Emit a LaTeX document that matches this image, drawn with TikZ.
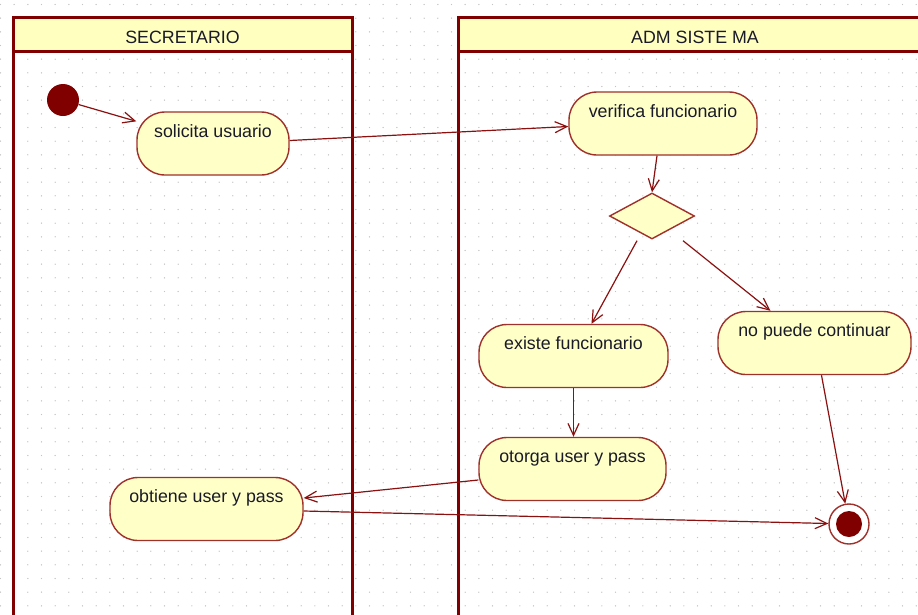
\documentclass[tikz,border=0pt]{standalone}
\usepackage{fontspec}
\setmainfont{Liberation Sans}
\usetikzlibrary{shapes.geometric,arrows.meta}
\definecolor{lanec}{HTML}{800000}
\definecolor{nodeb}{HTML}{A0302A}
\definecolor{nodef}{HTML}{FFFFC8}
\definecolor{headf}{HTML}{FFFFC0}
\definecolor{edgec}{HTML}{8B1010}
\definecolor{dotc}{HTML}{C4C4C4}
\definecolor{textc}{HTML}{1A1A28}
\begin{document}
\begin{tikzpicture}[x=1pt,y=-1pt,
  font=\fontsize{17.8}{20}\selectfont, text=textc,
  act/.style={draw=nodeb, fill=nodef, line width=1.4pt, rounded corners=28pt,
    inner sep=0pt, text height=13pt, text depth=26pt, minimum height=63pt},
  lanehead/.style={draw=lanec, fill=headf, line width=3pt, inner sep=0pt,
    text height=18pt, text depth=0pt, minimum height=34pt},
  laneline/.style={draw=lanec, line width=3pt},
  flow/.style={draw=edgec, line width=1.2pt, -{Straight Barb[length=12pt,width=11pt]}}]
\useasboundingbox (0,0) rectangle (918,614);
\fill[white] (0,0) rectangle (918,614);
% grid dots
\foreach \i in {0,...,67}
  \foreach \j in {0,...,44}
    \fill[dotc] (0.5+13.667*\i, 4.5+13.667*\j) circle (0.7pt);
% swimlanes
\draw[laneline] (13,17) rectangle (352,640);
\node[lanehead, minimum width=339pt] (h1) at (182.5,34) {SECRETARIO};
\draw[laneline] (458,17) rectangle (932,640);
\node[lanehead, minimum width=474pt] (h2) at (695,34) {ADM SISTE MA};
% nodes
\node[circle, fill=lanec, minimum size=32pt, inner sep=0pt] (init) at (63,100) {};
\node[act, minimum width=152pt] (sol) at (213,143.5) {solicita usuario};
\node[act, minimum width=188pt] (ver) at (663,123.5) {verifica funcionario};
\node[diamond, draw=nodeb, fill=nodef, line width=1.4pt, inner sep=0pt,
  minimum width=85pt, minimum height=46pt] (dec) at (652,216) {};
\node[act, minimum width=189pt] (exi) at (573.5,356) {existe funcionario};
\node[act, minimum width=193pt] (nop) at (814.5,343) {no puede continuar};
\node[act, minimum width=187pt] (oto) at (572.5,469) {otorga user y pass};
\node[act, minimum width=193pt] (obt) at (206.5,509) {obtiene user y pass};
\node[circle, draw=nodeb, fill=white, line width=1.4pt, minimum size=40pt, inner sep=0pt,
  path picture={\fill[lanec] (path picture bounding box.center) circle (13pt);}] (fin) at (849,524) {};
% flows
\draw[flow] (init) -- (sol);
\draw[flow] ([yshift=3pt]sol.east) -- ([yshift=-3pt]ver.west);
\draw[flow] ([xshift=-6pt]ver.south) -- (dec.north);
\draw[flow] ([xshift=-15pt,yshift=-1pt]dec.south) -- ([xshift=18pt]exi.north);
\draw[flow] ([xshift=31pt,yshift=-1pt]dec.south) -- ([xshift=-44pt]nop.north);
\draw[flow] (exi.south) -- (exi.south |- oto.north);
\draw[flow] ([yshift=-11pt]oto.west) -- ([yshift=11pt]obt.east);
\draw[flow] ([yshift=-2pt]obt.east) -- (fin);
\draw[flow] ([xshift=7pt]nop.south) -- (fin);
\end{tikzpicture}
\end{document}
